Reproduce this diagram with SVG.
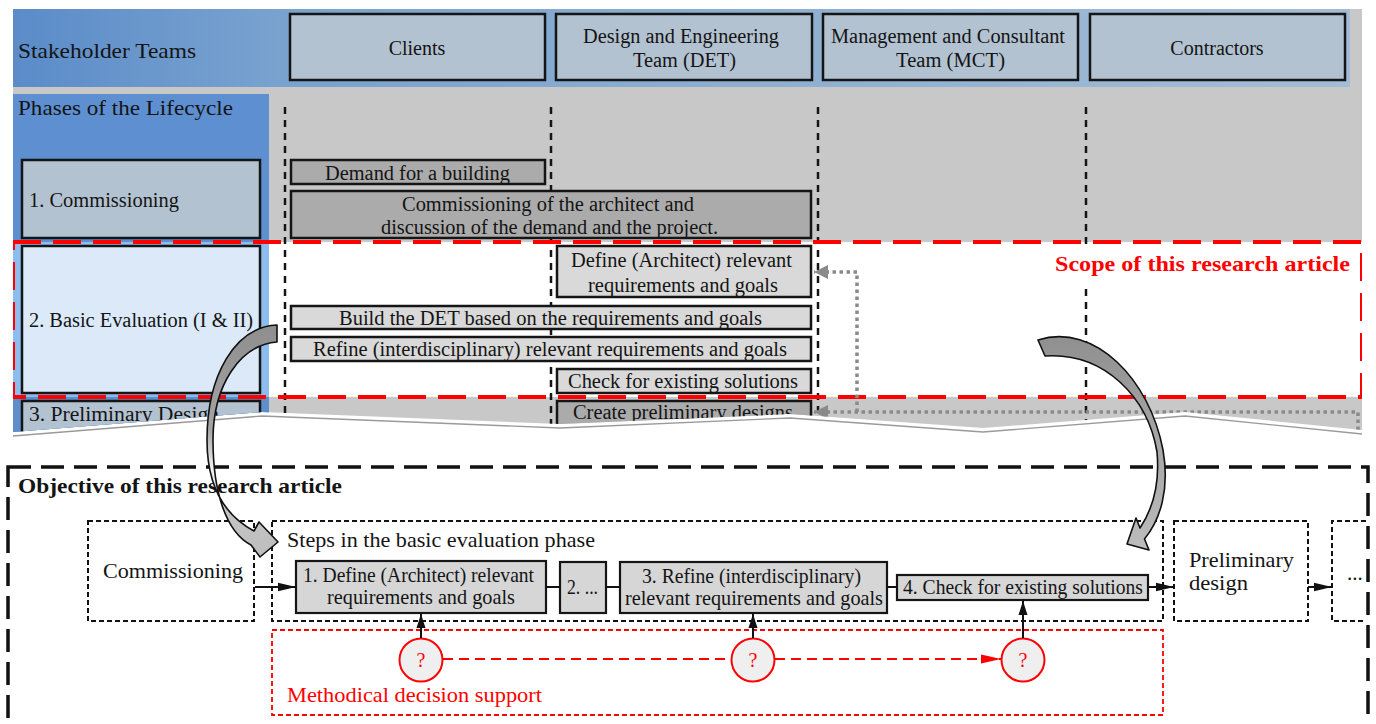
<svg xmlns="http://www.w3.org/2000/svg" width="1376" height="724" viewBox="0 0 1376 724">
  <defs>
    <style>
      text { font-family: "Liberation Serif", "Times New Roman", serif; fill: #141414; }
      .t20 { font-size: 20px; }
      .t21 { font-size: 21px; }
      .t22 { font-size: 22px; }
      .hbox { fill: #b3c2d1; stroke: #151515; stroke-width: 2.5; }
      .pbox { fill: #b3c2d1; stroke: #151515; stroke-width: 2.5; }
      .act-dark { fill: #ababab; stroke: #151515; stroke-width: 2.5; }
      .act-light { fill: #d9d9d9; stroke: #151515; stroke-width: 2.5; }
      .lane { stroke: #151515; stroke-width: 2.5; stroke-dasharray: 7 6; fill: none; }
      .scope { fill: none; stroke: #ff0000; stroke-width: 4; stroke-dasharray: 28 12; }
      .objective { fill: none; stroke: #111; stroke-width: 3.5; stroke-dasharray: 23 10; }
      .phase { fill: none; stroke: #111; stroke-width: 2; stroke-dasharray: 5 3; }
      .support { fill: none; stroke: #ff0000; stroke-width: 1.8; stroke-dasharray: 5 3; }
      .step { fill: #d6d6d6; stroke: #151515; stroke-width: 2.2; }
      .flow { stroke: #111; stroke-width: 2; fill: none; }
      .redflow { stroke: #ff0000; stroke-width: 1.8; stroke-dasharray: 10 6; fill: none; }
      .feedback { stroke: #8a8a8a; stroke-width: 3.5; stroke-dasharray: 3.5 3.5; fill: none; }
      .q { fill: #efefef; stroke: #ff0000; stroke-width: 2; }
      .qt { fill: #ff0000; font-size: 20px; }
      .redtext { fill: #ff0000; }
      .bent { stroke: #111; stroke-width: 1.6; stroke-linejoin: round; }
    </style>
    <linearGradient id="hdrGrad" gradientUnits="userSpaceOnUse" x1="13" y1="0" x2="1350" y2="0">
      <stop offset="0" stop-color="#5b8cc9"/>
      <stop offset="0.2" stop-color="#79a2cf"/>
      <stop offset="0.5" stop-color="#8badd0"/>
      <stop offset="1" stop-color="#a4bdd6"/>
    </linearGradient>
    <linearGradient id="leftBend" gradientUnits="userSpaceOnUse" x1="0" y1="325" x2="0" y2="557">
      <stop offset="0" stop-color="#8e8e8e"/>
      <stop offset="0.45" stop-color="#a4a4a4"/>
      <stop offset="0.62" stop-color="#f2f2f2"/>
      <stop offset="0.8" stop-color="#c4c4c4"/>
      <stop offset="1" stop-color="#bdbdbd"/>
    </linearGradient>
    <linearGradient id="rightBend" gradientUnits="userSpaceOnUse" x1="0" y1="330" x2="0" y2="550">
      <stop offset="0" stop-color="#8e8e8e"/>
      <stop offset="0.5" stop-color="#a6a6a6"/>
      <stop offset="1" stop-color="#bcbcbc"/>
    </linearGradient>
    <clipPath id="tornClip">
      <polygon points="13,9 1362,9 1362,430 1185,412 983,428 790,414 560,424 262,412 13,432"/>
    </clipPath>
    <marker id="headBlack" markerUnits="userSpaceOnUse" markerWidth="18" markerHeight="10" refX="18" refY="5" orient="auto">
      <path d="M0,0.8 L18,5 L0,9.2 Z" fill="#111"/>
    </marker>
    <marker id="headBlackUp" markerUnits="userSpaceOnUse" markerWidth="14" markerHeight="10" refX="14" refY="5" orient="auto">
      <path d="M0,0.5 L14,5 L0,9.5 Z" fill="#111"/>
    </marker>
    <marker id="headRed" markerUnits="userSpaceOnUse" markerWidth="20" markerHeight="10" refX="20" refY="5" orient="auto">
      <path d="M0,0.5 L20,5 L0,9.5 Z" fill="#ff0000"/>
    </marker>
    <marker id="headGray" markerUnits="userSpaceOnUse" markerWidth="14" markerHeight="14" refX="14" refY="7" orient="auto">
      <path d="M0,0 L14,7 L0,14 Z" fill="#8a8a8a"/>
    </marker>
  </defs>

  <rect width="1376" height="724" fill="#ffffff"/>

  <!-- Lifecycle / stakeholder matrix, cut off with a torn lower edge -->
  <g id="lifecycle-matrix" clip-path="url(#tornClip)">
    <rect x="13" y="9" width="1349" height="430" fill="#c8c8c8"/>
    <rect x="13" y="9" width="1337" height="78" fill="url(#hdrGrad)"/>
    <rect x="13" y="94" width="256" height="345" fill="#5d8fd1"/>
    <rect x="269" y="242" width="1093" height="155" fill="#ffffff"/>
    <rect x="13" y="242" width="256" height="155" fill="#8dbcef"/>
    <rect x="13" y="397" width="256" height="42" fill="#5f8fcb"/>

    <!-- lane separators -->
    <g id="lanes">
      <line class="lane" x1="285" y1="107" x2="285" y2="440"/>
      <line class="lane" x1="551" y1="107" x2="551" y2="440"/>
      <line class="lane" x1="818" y1="107" x2="818" y2="440"/>
      <line class="lane" x1="1086" y1="107" x2="1086" y2="440"/>
    </g>

    <g id="header-label">
      <text class="t22" x="18" y="58" textLength="178" lengthAdjust="spacingAndGlyphs">Stakeholder Teams</text>
    </g>
    <g id="team-clients">
      <rect class="hbox" x="290" y="14" width="255" height="66"/>
      <text class="t20" x="417" y="55" text-anchor="middle">Clients</text>
    </g>
    <g id="team-det">
      <rect class="hbox" x="556" y="14" width="256" height="66"/>
      <text class="t20" x="583" y="43" textLength="196" lengthAdjust="spacingAndGlyphs">Design and Engineering</text>
      <text class="t20" x="633" y="67" textLength="103" lengthAdjust="spacingAndGlyphs">Team (DET)</text>
    </g>
    <g id="team-mct">
      <rect class="hbox" x="823" y="14" width="255" height="66"/>
      <text class="t20" x="831" y="43" textLength="234" lengthAdjust="spacingAndGlyphs">Management and Consultant</text>
      <text class="t20" x="896" y="67" textLength="109" lengthAdjust="spacingAndGlyphs">Team (MCT)</text>
    </g>
    <g id="team-contractors">
      <rect class="hbox" x="1090" y="14" width="255" height="66"/>
      <text class="t20" x="1217" y="55" text-anchor="middle">Contractors</text>
    </g>

    <g id="phases-label">
      <text class="t22" x="18" y="115" textLength="215" lengthAdjust="spacingAndGlyphs">Phases of the Lifecycle</text>
    </g>
    <g id="phase-commissioning">
      <rect class="pbox" x="22" y="160" width="238" height="78"/>
      <text class="t20" x="29" y="207" textLength="150" lengthAdjust="spacingAndGlyphs">1. Commissioning</text>
    </g>
    <g id="phase-basic-evaluation">
      <rect x="22" y="246" width="238" height="147" fill="#dbe9f9" stroke="#151515" stroke-width="2.5"/>
      <text class="t20" x="29" y="327" textLength="224" lengthAdjust="spacingAndGlyphs">2. Basic Evaluation (I &amp; II)</text>
    </g>
    <g id="phase-preliminary-design">
      <rect class="pbox" x="22" y="401" width="238" height="50"/>
      <text class="t20" x="29" y="421" textLength="190" lengthAdjust="spacingAndGlyphs">3. Preliminary Design</text>
    </g>

    <g id="act-demand">
      <rect class="act-dark" x="291" y="160" width="254" height="24"/>
      <text class="t20" x="325" y="180" textLength="185" lengthAdjust="spacingAndGlyphs">Demand for a building</text>
    </g>
    <g id="act-commission-architect">
      <rect class="act-dark" x="291" y="191" width="520" height="47"/>
      <text class="t20" x="402" y="211" textLength="292" lengthAdjust="spacingAndGlyphs">Commissioning of the architect and</text>
      <text class="t20" x="381" y="234" textLength="337" lengthAdjust="spacingAndGlyphs">discussion of the demand and the project.</text>
    </g>
    <g id="act-define">
      <rect class="act-light" x="557" y="246" width="254" height="51"/>
      <text class="t20" x="571" y="267" textLength="221" lengthAdjust="spacingAndGlyphs">Define (Architect) relevant</text>
      <text class="t20" x="588" y="292" textLength="190" lengthAdjust="spacingAndGlyphs">requirements and goals</text>
    </g>
    <g id="act-build-det">
      <rect class="act-light" x="291" y="306" width="520" height="23"/>
      <text class="t20" x="339" y="325" textLength="423" lengthAdjust="spacingAndGlyphs">Build the DET based on the requirements and goals</text>
    </g>
    <g id="act-refine">
      <rect class="act-light" x="291" y="337" width="520" height="24"/>
      <text class="t20" x="313" y="356" textLength="474" lengthAdjust="spacingAndGlyphs">Refine (interdisciplinary) relevant requirements and goals</text>
    </g>
    <g id="act-check">
      <rect class="act-light" x="557" y="369" width="254" height="24"/>
      <text class="t20" x="568" y="388" textLength="230" lengthAdjust="spacingAndGlyphs">Check for existing solutions</text>
    </g>
    <g id="act-create-designs">
      <rect class="act-dark" x="557" y="401" width="254" height="40"/>
      <text class="t20" x="573" y="419" textLength="220" lengthAdjust="spacingAndGlyphs">Create preliminary designs</text>
    </g>

    <!-- scope frame -->
    <g id="scope">
      <rect class="scope" x="13" y="242" width="1349" height="155"/>
      <rect x="1050" y="249" width="304" height="34" fill="#ffffff"/>
      <text class="t22 redtext" x="1055" y="271" font-weight="bold" textLength="295" lengthAdjust="spacingAndGlyphs">Scope of this research article</text>
    </g>

    <!-- iteration feedback (dotted) -->
    <g id="feedback">
      <polyline class="feedback" points="1358,430 1358,412 814,412" marker-end="url(#headGray)"/>
      <polyline class="feedback" points="857,412 857,272 814,272" marker-end="url(#headGray)"/>
    </g>
  </g>

  <!-- torn edge shadow -->
  <polyline points="13,436 262,416 560,428 790,418 983,432 1185,416 1362,434" fill="none" stroke="#9a9a9a" stroke-width="1.3"/>

  <!-- Objective frame -->
  <g id="objective">
    <rect class="objective" x="8" y="467" width="1360" height="300"/>
    <text class="t21" x="18" y="493" font-weight="bold" textLength="324" lengthAdjust="spacingAndGlyphs">Objective of this research article</text>
  </g>

  <g id="node-commissioning">
    <rect class="phase" x="88" y="521" width="166" height="100"/>
    <text class="t21" x="103" y="578" textLength="140" lengthAdjust="spacingAndGlyphs">Commissioning</text>
  </g>
  <g id="node-basic-evaluation">
    <rect class="phase" x="272" y="521" width="891" height="100"/>
    <text class="t21" x="287" y="547" textLength="308" lengthAdjust="spacingAndGlyphs">Steps in the basic evaluation phase</text>
  </g>
  <g id="step-1">
    <rect class="step" x="296" y="561" width="250" height="52"/>
    <text class="t21" x="303" y="582" textLength="231" lengthAdjust="spacingAndGlyphs">1. Define (Architect) relevant</text>
    <text class="t21" x="327" y="604" textLength="188" lengthAdjust="spacingAndGlyphs">requirements and goals</text>
  </g>
  <g id="step-2">
    <rect class="step" x="560" y="562" width="46" height="51"/>
    <text class="t21" x="567" y="594" textLength="31" lengthAdjust="spacingAndGlyphs">2. ...</text>
  </g>
  <g id="step-3">
    <rect class="step" x="620" y="562" width="267" height="51"/>
    <text class="t21" x="642" y="583" textLength="219" lengthAdjust="spacingAndGlyphs">3. Refine (interdisciplinary)</text>
    <text class="t21" x="625" y="605" textLength="258" lengthAdjust="spacingAndGlyphs">relevant requirements and goals</text>
  </g>
  <g id="step-4">
    <rect class="step" x="897" y="575" width="251" height="25"/>
    <text class="t21" x="903" y="594" textLength="240" lengthAdjust="spacingAndGlyphs">4. Check for existing solutions</text>
  </g>
  <g id="node-preliminary-design">
    <rect class="phase" x="1174" y="521" width="134" height="100"/>
    <text class="t21" x="1189" y="567" textLength="105" lengthAdjust="spacingAndGlyphs">Preliminary</text>
    <text class="t21" x="1189" y="590" textLength="59" lengthAdjust="spacingAndGlyphs">design</text>
  </g>
  <g id="node-next">
    <path class="phase" d="M1366,521 H1332 V621 H1366"/>
    <text class="t21" x="1347" y="580">...</text>
  </g>

  <g id="node-decision-support">
    <rect class="support" x="272" y="630" width="891" height="85"/>
    <text class="t21 redtext" x="287" y="702" textLength="255" lengthAdjust="spacingAndGlyphs">Methodical decision support</text>
  </g>
  <g id="q-1">
    <circle class="q" cx="421" cy="660" r="21.5"/>
    <text class="qt" x="421" y="667" text-anchor="middle">?</text>
  </g>
  <g id="q-2">
    <circle class="q" cx="753" cy="660" r="21.5"/>
    <text class="qt" x="753" y="667" text-anchor="middle">?</text>
  </g>
  <g id="q-3">
    <circle class="q" cx="1023" cy="660" r="21.5"/>
    <text class="qt" x="1023" y="667" text-anchor="middle">?</text>
  </g>

  <!-- connectors -->
  <g id="connectors">
    <line class="flow" x1="255" y1="587" x2="296" y2="587" marker-end="url(#headBlack)"/>
    <line class="flow" x1="546" y1="587" x2="560" y2="587"/>
    <line class="flow" x1="606" y1="587" x2="620" y2="587"/>
    <line class="flow" x1="887" y1="587" x2="897" y2="587"/>
    <line class="flow" x1="1148" y1="587" x2="1174" y2="587" marker-end="url(#headBlack)"/>
    <line class="flow" x1="1308" y1="587" x2="1332" y2="587" marker-end="url(#headBlack)"/>
    <line class="flow" x1="421" y1="638" x2="421" y2="614" marker-end="url(#headBlackUp)"/>
    <line class="flow" x1="753" y1="638" x2="753" y2="614" marker-end="url(#headBlackUp)"/>
    <line class="flow" x1="1023" y1="638" x2="1023" y2="601" marker-end="url(#headBlackUp)"/>
    <line class="redflow" x1="443" y1="659" x2="731" y2="659"/>
    <line class="redflow" x1="775" y1="659" x2="1001" y2="659" marker-end="url(#headRed)"/>

    <!-- bent block arrows from the scope into the objective -->
    <path id="bend-left" class="bent" fill="url(#leftBend)"
          d="M277,325 C235,327 207,375 207,440 C207,485 224,515 254,531 L259,522 L278,542 L260,557 L251,545 C226,532 213,492 213,440 C213,385 240,345 277,342 Z"/>
    <path id="bend-right" class="bent" fill="url(#rightBend)"
          d="M1038,340 C1095,322 1150,380 1163,450 C1170,490 1160,520 1144.5,539 L1149,550 L1127,544 L1136,518 L1140,528 C1152,510 1160,485 1157,452 C1148,398 1105,352 1045,356 Z"/>
  </g>
</svg>
